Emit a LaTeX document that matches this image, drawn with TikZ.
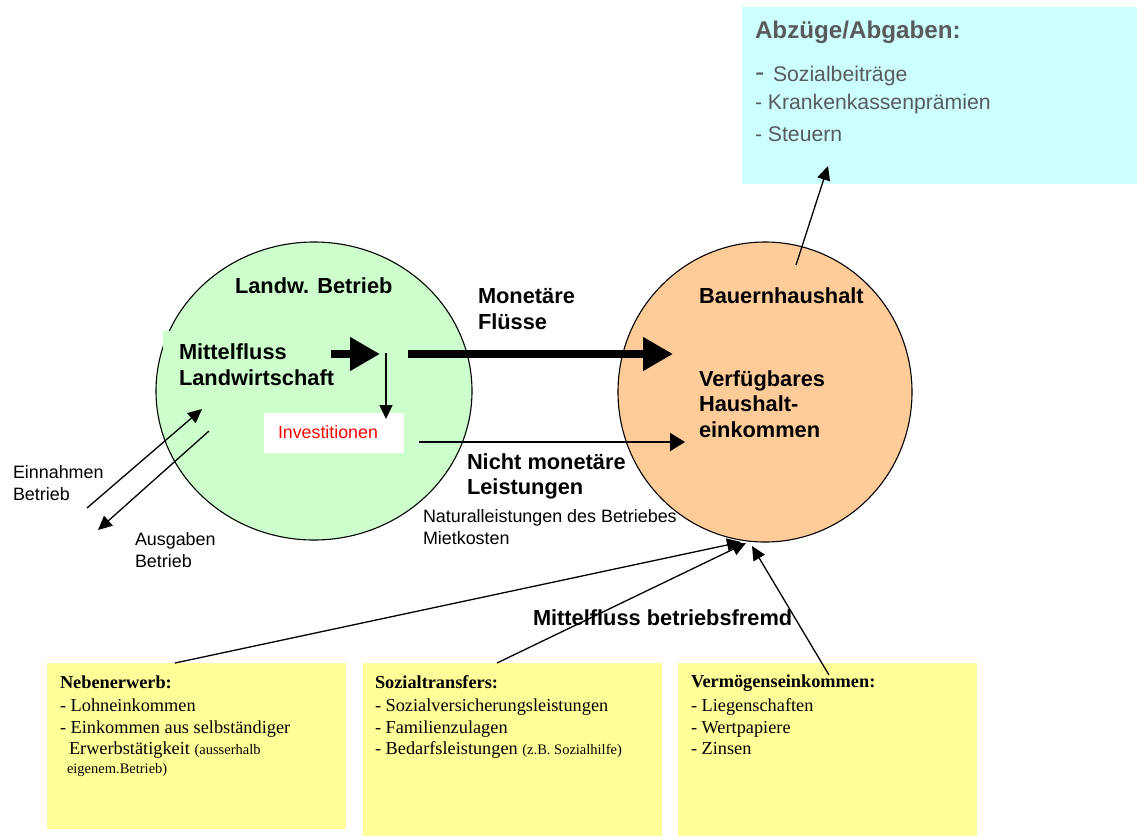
\documentclass[tikz,border=0pt]{standalone}
\usepackage{fontspec}
\setmainfont{Liberation Sans}
\newfontfamily\timesf{Liberation Serif}
\usetikzlibrary{arrows.meta,shapes.geometric}
\definecolor{farmgreen}{HTML}{CCFFCC}
\definecolor{hhorange}{HTML}{FFCC99}
\definecolor{abzcyan}{HTML}{CCFFFF}
\definecolor{noteyellow}{HTML}{FFFF99}
\definecolor{abzgray}{HTML}{5A5A5A}
\begin{document}
\begin{tikzpicture}[x=1pt,y=-1pt,
  lbl/.style={anchor=base west, inner sep=0pt, outer sep=0pt},
  boldlbl/.style={lbl, font=\fontsize{21.8}{25}\selectfont\bfseries},
  reglbl/.style={lbl, font=\fontsize{17.9}{20}\selectfont},
  abzlbl/.style={lbl, text=abzgray, font=\fontsize{21.2}{24}\selectfont},
  notelbl/.style={lbl, font=\timesf\fontsize{18.3}{21}\selectfont},
  panel/.style={rectangle, draw=none, inner sep=0pt, outer sep=0pt, anchor=north west},
  circ/.style={ellipse, draw=black, line width=1.1pt, inner sep=0pt},
  thinarrow/.style={line width=1.3pt, -{Triangle[length=14pt,width=13pt]}},
  midarrow/.style={line width=2pt, -{Triangle[length=15pt,width=18pt]}},
  thickarrow/.style={line width=8pt, -{Triangle[length=30pt,width=32pt]}}
]
\useasboundingbox (0,0) rectangle (1137,836);

% cyan panel
\node[panel, fill=abzcyan, minimum width=395pt, minimum height=177pt] (abz) at (742,7) {};
\node[lbl, text=abzgray, font=\fontsize{24.2}{28}\selectfont\bfseries] (abzt) at (755,38) {Abzüge/Abgaben:};
\node[lbl, text=abzgray, font=\fontsize{28}{30}\selectfont] (abzd) at (755,81) {-};
\node[abzlbl] (abz1) at (773,81) {Sozialbeiträge};
\node[abzlbl] (abz2) at (755,109) {- Krankenkassenprämien};
\node[abzlbl] (abz3) at (755,141) {- Steuern};

% circles
\node[circ, fill=farmgreen, minimum width=316pt, minimum height=298pt] (farm) at (314,391) {};
\node[circ, fill=hhorange, minimum width=294pt, minimum height=300pt] (hh) at (765,392) {};
\node[panel, fill=farmgreen, minimum width=177pt, minimum height=67pt] (mfbox) at (163,331) {};
\node[panel, fill=white, minimum width=140pt, minimum height=40pt] (invbox) at (264,413) {};

% farm texts
\node[boldlbl] (farmt) at (235,293) {Landw. Betrieb};
\node[boldlbl] (mf1) at (179,359) {Mittelfluss};
\node[boldlbl] (mf2) at (179,385) {Landwirtschaft};
\node[lbl, text=red, font=\fontsize{17.8}{20}\selectfont] (inv) at (278,438) {Investitionen};

% flow texts
\node[boldlbl] (mon1) at (478,303) {Monetäre};
\node[boldlbl] (mon2) at (478,329) {Flüsse};
\node[boldlbl] (nm1) at (467,469) {Nicht monetäre};
\node[boldlbl] (nm2) at (467,494) {Leistungen};
\node[reglbl] (nat1) at (423,522) {Naturalleistungen des Betriebes};
\node[reglbl] (nat2) at (423,544) {Mietkosten};
\node[reglbl] (ein1) at (13,478) {Einnahmen};
\node[reglbl] (ein2) at (13,500) {Betrieb};
\node[reglbl] (aus1) at (135,545) {Ausgaben};
\node[reglbl] (aus2) at (135,567) {Betrieb};

% household texts
\node[boldlbl] (hht) at (699,303) {Bauernhaushalt};
\node[boldlbl] (vh1) at (699,386) {Verfügbares};
\node[boldlbl] (vh2) at (699,411) {Haushalt-};
\node[boldlbl] (vh3) at (699,437) {einkommen};

\node[boldlbl] (mbf) at (533,625) {Mittelfluss betriebsfremd};

% yellow panels
\node[panel, fill=noteyellow, minimum width=299pt, minimum height=166pt] (neb) at (47,663) {};
\node[panel, fill=noteyellow, minimum width=299pt, minimum height=173pt] (soz) at (363,663) {};
\node[panel, fill=noteyellow, minimum width=299pt, minimum height=173pt] (ver) at (678,663) {};

\node[notelbl, font=\timesf\fontsize{18.3}{21}\selectfont\bfseries] (neb0) at (60,688) {Nebenerwerb:};
\node[notelbl] (neb1) at (60,711) {- Lohneinkommen};
\node[notelbl] (neb2) at (60,733) {- Einkommen aus selbständiger};
\node[notelbl] (neb3) at (69,754) {Erwerbstätigkeit {\fontsize{14.5}{16}\selectfont(ausserhalb}};
\node[notelbl, font=\timesf\fontsize{14.5}{16}\selectfont] (neb4) at (67,773) {eigenem.Betrieb)};

\node[notelbl, font=\timesf\fontsize{18.3}{21}\selectfont\bfseries] (soz0) at (375,688) {Sozialtransfers:};
\node[notelbl] (soz1) at (375,711) {- Sozialversicherungsleistungen};
\node[notelbl] (soz2) at (375,733) {- Familienzulagen};
\node[notelbl] (soz3) at (375,754) {- Bedarfsleistungen {\fontsize{14.5}{16}\selectfont(z.B. Sozialhilfe)}};

\node[notelbl, font=\timesf\fontsize{18.3}{21}\selectfont\bfseries] (ver0) at (691,687) {Vermögenseinkommen:};
\node[notelbl] (ver1) at (691,711) {- Liegenschaften};
\node[notelbl] (ver2) at (691,733) {- Wertpapiere};
\node[notelbl] (ver3) at (691,754) {- Zinsen};

% connector end points
\coordinate (hhtop) at (796,265);
\coordinate (abzin) at (828,166);
\coordinate (mfout) at (331,354);
\coordinate (split) at (380,354);
\coordinate (invtop) at (386,353);
\coordinate (invin) at (386,419);
\coordinate (monstart) at (408,354);
\coordinate (monend) at (673,354);
\coordinate (nmstart) at (419,442);
\coordinate (nmend) at (685,442);
\coordinate (einstart) at (87,508);
\coordinate (einend) at (202,409);
\coordinate (ausstart) at (209,431);
\coordinate (ausend) at (98,530);
\coordinate (nebtop) at (175,663);
\coordinate (soztop) at (497,663);
\coordinate (vertop) at (829,675);
\coordinate (hhin1) at (741,542);
\coordinate (hhin2) at (746,543);
\coordinate (hhin3) at (752,546);

% connectors
\draw[thinarrow] (hhtop) -- (abzin);
\draw[thickarrow] (mfout) -- (split);
\draw[thinarrow] (invtop) -- (invin);
\draw[thickarrow] (monstart) -- (monend);
\draw[midarrow] (nmstart) -- (nmend);
\draw[thinarrow] (einstart) -- (einend);
\draw[thinarrow] (ausstart) -- (ausend);
\draw[thinarrow] (nebtop) -- (hhin1);
\draw[thinarrow] (soztop) -- (hhin2);
\draw[thinarrow] (vertop) -- (hhin3);
\end{tikzpicture}
\end{document}
